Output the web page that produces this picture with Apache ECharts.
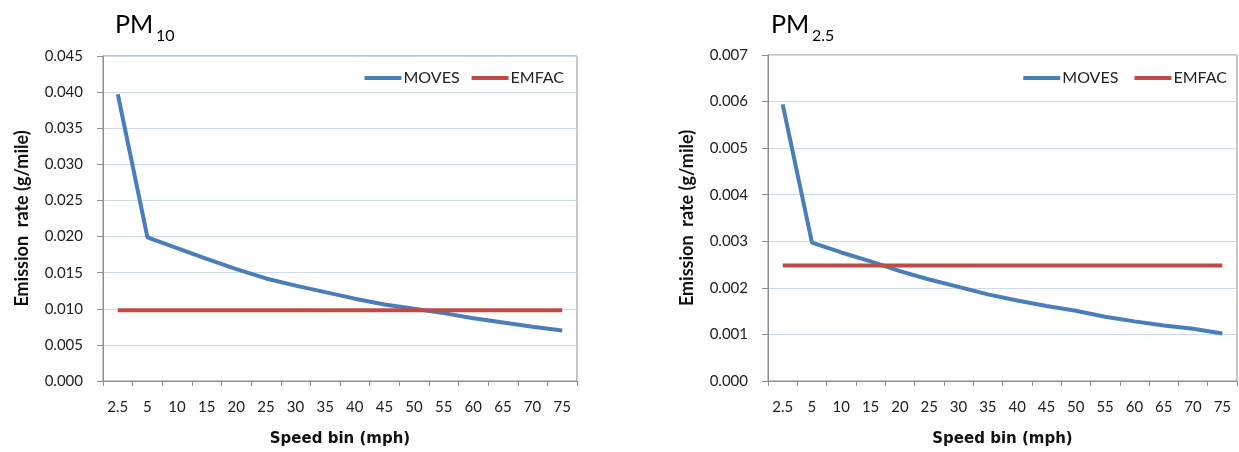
<!DOCTYPE html>
<html>
<head>
<meta charset="utf-8">
<script src="https://cdn.jsdelivr.net/npm/echarts@6/dist/echarts.min.js"></script>
<style>html,body{margin:0;padding:0;background:#fff}#c{width:1239px;height:452px}</style>
</head>
<body>
<div id="c"></div>
<script>
const categories = ['2.5','5','10','15','20','25','30','35','40','45','50','55','60','65','70','75'];
const pm10Moves = [0.0397,0.0199,0.0184,0.0169,0.0155,0.0142,0.0132,0.0123,0.0114,0.0106,0.0100,0.0094,0.0087,0.0081,0.0075,0.0070];
const pm10Emfac = [0.0098,0.0098,0.0098,0.0098,0.0098,0.0098,0.0098,0.0098,0.0098,0.0098,0.0098,0.0098,0.0098,0.0098,0.0098,0.0098];
const pm25Moves = [0.00594,0.00297,0.00276,0.00257,0.00236,0.00218,0.00202,0.00186,0.00173,0.00161,0.00151,0.00138,0.00128,0.00119,0.00112,0.00102];
const pm25Emfac = [0.00248,0.00248,0.00248,0.00248,0.00248,0.00248,0.00248,0.00248,0.00248,0.00248,0.00248,0.00248,0.00248,0.00248,0.00248,0.00248];
const yTicks10 = {min:0, max:0.045, interval:0.005};
const yTicks25 = {min:0, max:0.007, interval:0.001};

const FONT = 'Lato';
const BLUE = '#4A7EBB', RED = '#BE4B48', AXIS = '#8e8e8e';
const chart = echarts.init(document.getElementById('c'));

function xAxis(gi){
  return {
    type:'category', gridIndex:gi, data:categories, boundaryGap:true,
    name:'Speed bin (mph)', nameLocation:'middle', nameGap:51,
    nameTextStyle:{fontFamily:'DejaVu Sans',fontWeight:'bold',fontSize:15,color:'#111'},
    axisLine:{lineStyle:{color:AXIS,width:1}},
    axisTick:{show:true,length:5,lineStyle:{color:AXIS},interval:0},
    axisLabel:{interval:0,fontFamily:FONT,fontSize:15,color:'#222',margin:19},
    splitLine:{show:false}
  };
}
function yAxis(gi,t){
  return {
    type:'value', gridIndex:gi, min:t.min, max:t.max, interval:t.interval,
    name:'Emission  rate (g/mile)', nameLocation:'middle', nameGap:72, nameRotate:90,
    nameTextStyle:{fontFamily:FONT,fontWeight:'bold',fontSize:18,color:'#111'},
    axisLine:{show:true,lineStyle:{color:AXIS,width:1}},
    axisTick:{show:true,length:6,lineStyle:{color:AXIS}},
    axisLabel:{fontFamily:FONT,fontSize:15,color:'#222',margin:20,formatter:v=>v.toFixed(3)},
    splitLine:{show:true,lineStyle:{color:'#CDD9EE',width:1}}
  };
}
function legend(names,right){
  return {
    data:names, right:right, top:70, itemWidth:37, itemHeight:4, itemGap:12,
    icon:'rect', padding:0, orient:'horizontal', width:300,
    textStyle:{fontFamily:FONT,fontSize:16,color:'#222',padding:[0,0,0,-3]}
  };
}
function line(name,gi,data,color){
  return {
    name:name, type:'line', xAxisIndex:gi, yAxisIndex:gi, data:data,
    symbol:'none', smooth:false, lineStyle:{color:color,width:4}, itemStyle:{color:color},
    emphasis:{disabled:true}
  };
}
const tMain = {fontFamily:FONT,fontSize:25,fontWeight:'normal',color:'#000'};
const tSub = {fontFamily:FONT,fontSize:16,fontWeight:'normal',color:'#000'};

chart.setOption({
  animation:false,
  title:[
    {left:115,top:12,text:'PM',textStyle:tMain,padding:0},
    {left:156,top:28,text:'10',textStyle:tSub,padding:0},
    {left:771,top:12,text:'PM',textStyle:tMain,padding:0},
    {left:812,top:28,text:'2.5',textStyle:tSub,padding:0}
  ],
  legend:[
    legend(['MOVES','EMFAC'],675),
    legend(['MOVES ','EMFAC '],8)
  ],
  grid:[
    {left:103,top:56,width:474,height:335,show:true,borderColor:AXIS,borderWidth:1,backgroundColor:'transparent'},
    {left:768,top:55,width:469,height:334,show:true,borderColor:AXIS,borderWidth:1,backgroundColor:'transparent'}
  ],
  xAxis:[xAxis(0),xAxis(1)],
  yAxis:[yAxis(0,yTicks10),yAxis(1,yTicks25)],
  series:[
    line('MOVES',0,pm10Moves,BLUE),
    line('EMFAC',0,pm10Emfac,RED),
    line('MOVES ',1,pm25Moves,BLUE),
    line('EMFAC ',1,pm25Emfac,RED)
  ]
});
</script>
</body>
</html>
